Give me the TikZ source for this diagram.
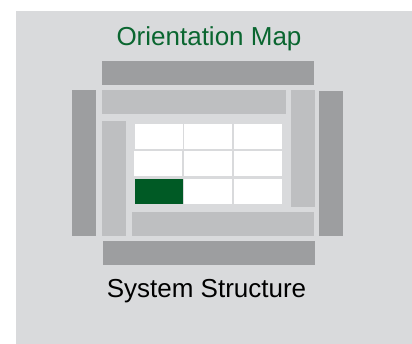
\documentclass[tikz,border=0pt]{standalone}
\usepackage{fontspec}
\setmainfont{Liberation Sans}
\definecolor{bggray}{HTML}{D9DADC}
\definecolor{darkbar}{HTML}{9D9EA0}
\definecolor{lightbar}{HTML}{BEBFC1}
\definecolor{mapgreen}{HTML}{005A25}
\definecolor{titlegreen}{HTML}{0A6630}
\begin{document}
\begin{tikzpicture}[x=1pt,y=-1pt,
  darkblock/.style={fill=darkbar},
  lightblock/.style={fill=lightbar},
  cell/.style={fill=white},
  activecell/.style={fill=mapgreen},
  label/.style={inner sep=0pt,anchor=base,font=\fontsize{26}{30}\selectfont}]
\useasboundingbox (0,0) rectangle (412,344);
\fill[white] (0,0) rectangle (412,344);
\fill[bggray] (16,11) rectangle (412,344);
% outer dark frame
\fill[darkblock] (102,61) rectangle (314,85);
\fill[darkblock] (72,90) rectangle (96,236);
\fill[darkblock] (319,91) rectangle (343,236);
\fill[darkblock] (103,241) rectangle (315,265);
% inner light frame
\fill[lightblock] (102,90) rectangle (286,114);
\fill[lightblock] (291,90) rectangle (315,207);
\fill[lightblock] (102,121) rectangle (126,236);
\fill[lightblock] (132,212) rectangle (314,236);
% grid
\fill[cell] (135,124) rectangle (183,149);
\fill[cell] (184,124) rectangle (232,149);
\fill[cell] (234,124) rectangle (282,149);
\fill[cell] (134,151) rectangle (182,176);
\fill[cell] (184,151) rectangle (232,176);
\fill[cell] (234,151) rectangle (282,176);
\fill[activecell] (135,179) rectangle (183,204);
\fill[cell] (184,179) rectangle (232,204);
\fill[cell] (234,179) rectangle (282,204);
% texts
\node[label,text=titlegreen] (title) at (209,46) {Orientation Map};
\node[label,text=black] (caption) at (206.5,298) {System Structure};
\end{tikzpicture}
\end{document}
